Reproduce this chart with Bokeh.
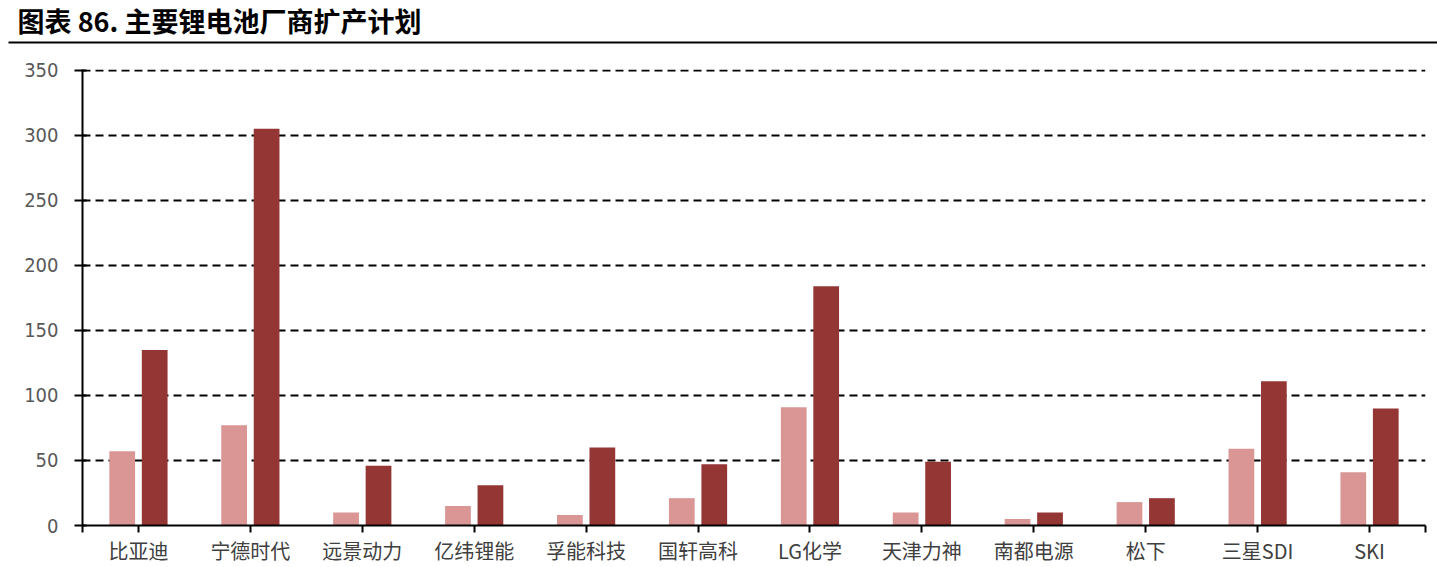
import numpy as np
from bokeh.plotting import figure
from bokeh.layouts import column
from bokeh.models import ColumnDataSource, Range1d, FixedTicker
from bokeh.transform import dodge
from bokeh.core.properties import value
from bokeh.embed import file_html
from bokeh.resources import INLINE

title_text = "图表 86. 主要锂电池厂商扩产计划"
categories = ["比亚迪", "宁德时代", "远景动力", "亿纬锂能", "孚能科技", "国轩高科",
              "LG化学", "天津力神", "南都电源", "松下", "三星SDI", "SKI"]
series_a = [57, 77, 10, 15, 8, 21, 91, 10, 5, 18, 59, 41]
series_b = [135, 305, 46, 31, 60, 47, 184, 49, 10, 21, 111, 90]
y_ticks = [0, 50, 100, 150, 200, 250, 300, 350]

PINK = "#D99694"
DARK = "#943634"
W, H = 1437, 567
CJK = "Noto Sans CJK SC"
LEFT, RIGHT = 82, 12

n = len(categories)
xs = np.arange(n) + 0.5
src = ColumnDataSource(dict(x=xs, a=series_a, b=series_b))

# ---- header with title and rule ----
HH = 52
hdr = figure(width=W, height=HH, x_range=Range1d(0, W), y_range=Range1d(0, HH),
             output_backend="svg", toolbar_location=None, min_border=0)
hdr.frame_align = False
hdr.axis.visible = False
hdr.grid.visible = False
hdr.outline_line_color = None
hdr.text(x=[17], y=[HH - 20], text=[title_text], text_font=value(CJK), text_font_style="bold",
         text_font_size="27px", text_baseline="middle", text_align="left", text_color="#000000")
hdr.line(x=[8, W], y=[10, 10], line_color="#000000", line_width=2)

# ---- chart ----
p = figure(width=W, height=H - HH, x_range=Range1d(0, n), y_range=Range1d(0, 350.6),
           output_backend="svg", toolbar_location=None,
           min_border_top=17, min_border_bottom=41, min_border_left=LEFT, min_border_right=RIGHT)
p.outline_line_color = None
p.vbar(x=dodge("x", -0.145, range=p.x_range), top="a", width=0.23, source=src,
       fill_color=PINK, line_color=None)
p.vbar(x=dodge("x", 0.145, range=p.x_range), top="b", width=0.23, source=src,
       fill_color=DARK, line_color=None)

p.xgrid.visible = False
p.ygrid.ticker = FixedTicker(ticks=y_ticks)
p.ygrid.grid_line_color = "#000000"
p.ygrid.grid_line_dash = "8 5"
p.ygrid.grid_line_width = 2

p.yaxis.ticker = FixedTicker(ticks=y_ticks)
p.yaxis.axis_line_color = "#000000"
p.yaxis.axis_line_width = 2
p.yaxis.major_tick_in = 4
p.yaxis.major_tick_out = 8
p.yaxis.major_tick_line_color = "#000000"
p.yaxis.major_tick_line_width = 2
p.yaxis.minor_tick_line_color = None
p.yaxis.major_label_standoff = 16
p.yaxis.major_label_text_font = "Liberation Sans Narrow, DejaVu Sans Condensed, sans-serif"
p.yaxis.major_label_text_font_size = "20px"
p.yaxis.major_label_text_color = "#595959"

xt = [0.0] + list(xs) + [float(n)]
p.xaxis.ticker = FixedTicker(ticks=xt)
overrides = {0.0: "", float(n): ""}
for xv, c in zip(xs, categories):
    overrides[float(xv)] = c
p.xaxis.major_label_overrides = overrides
p.xaxis.major_label_standoff = 3
p.xaxis.major_label_text_font = CJK
p.xaxis.major_label_text_font_size = "20px"
p.xaxis.major_label_text_color = "#404040"
p.xaxis.axis_line_color = "#000000"
p.xaxis.axis_line_width = 2
p.xaxis.major_tick_in = 0
p.xaxis.major_tick_out = 7
p.xaxis.major_tick_line_color = "#000000"
p.xaxis.major_tick_line_width = 2
p.xaxis.minor_tick_line_color = None

layout = column(hdr, p, spacing=0)
open("out.html", "w").write(file_html(layout, INLINE))
